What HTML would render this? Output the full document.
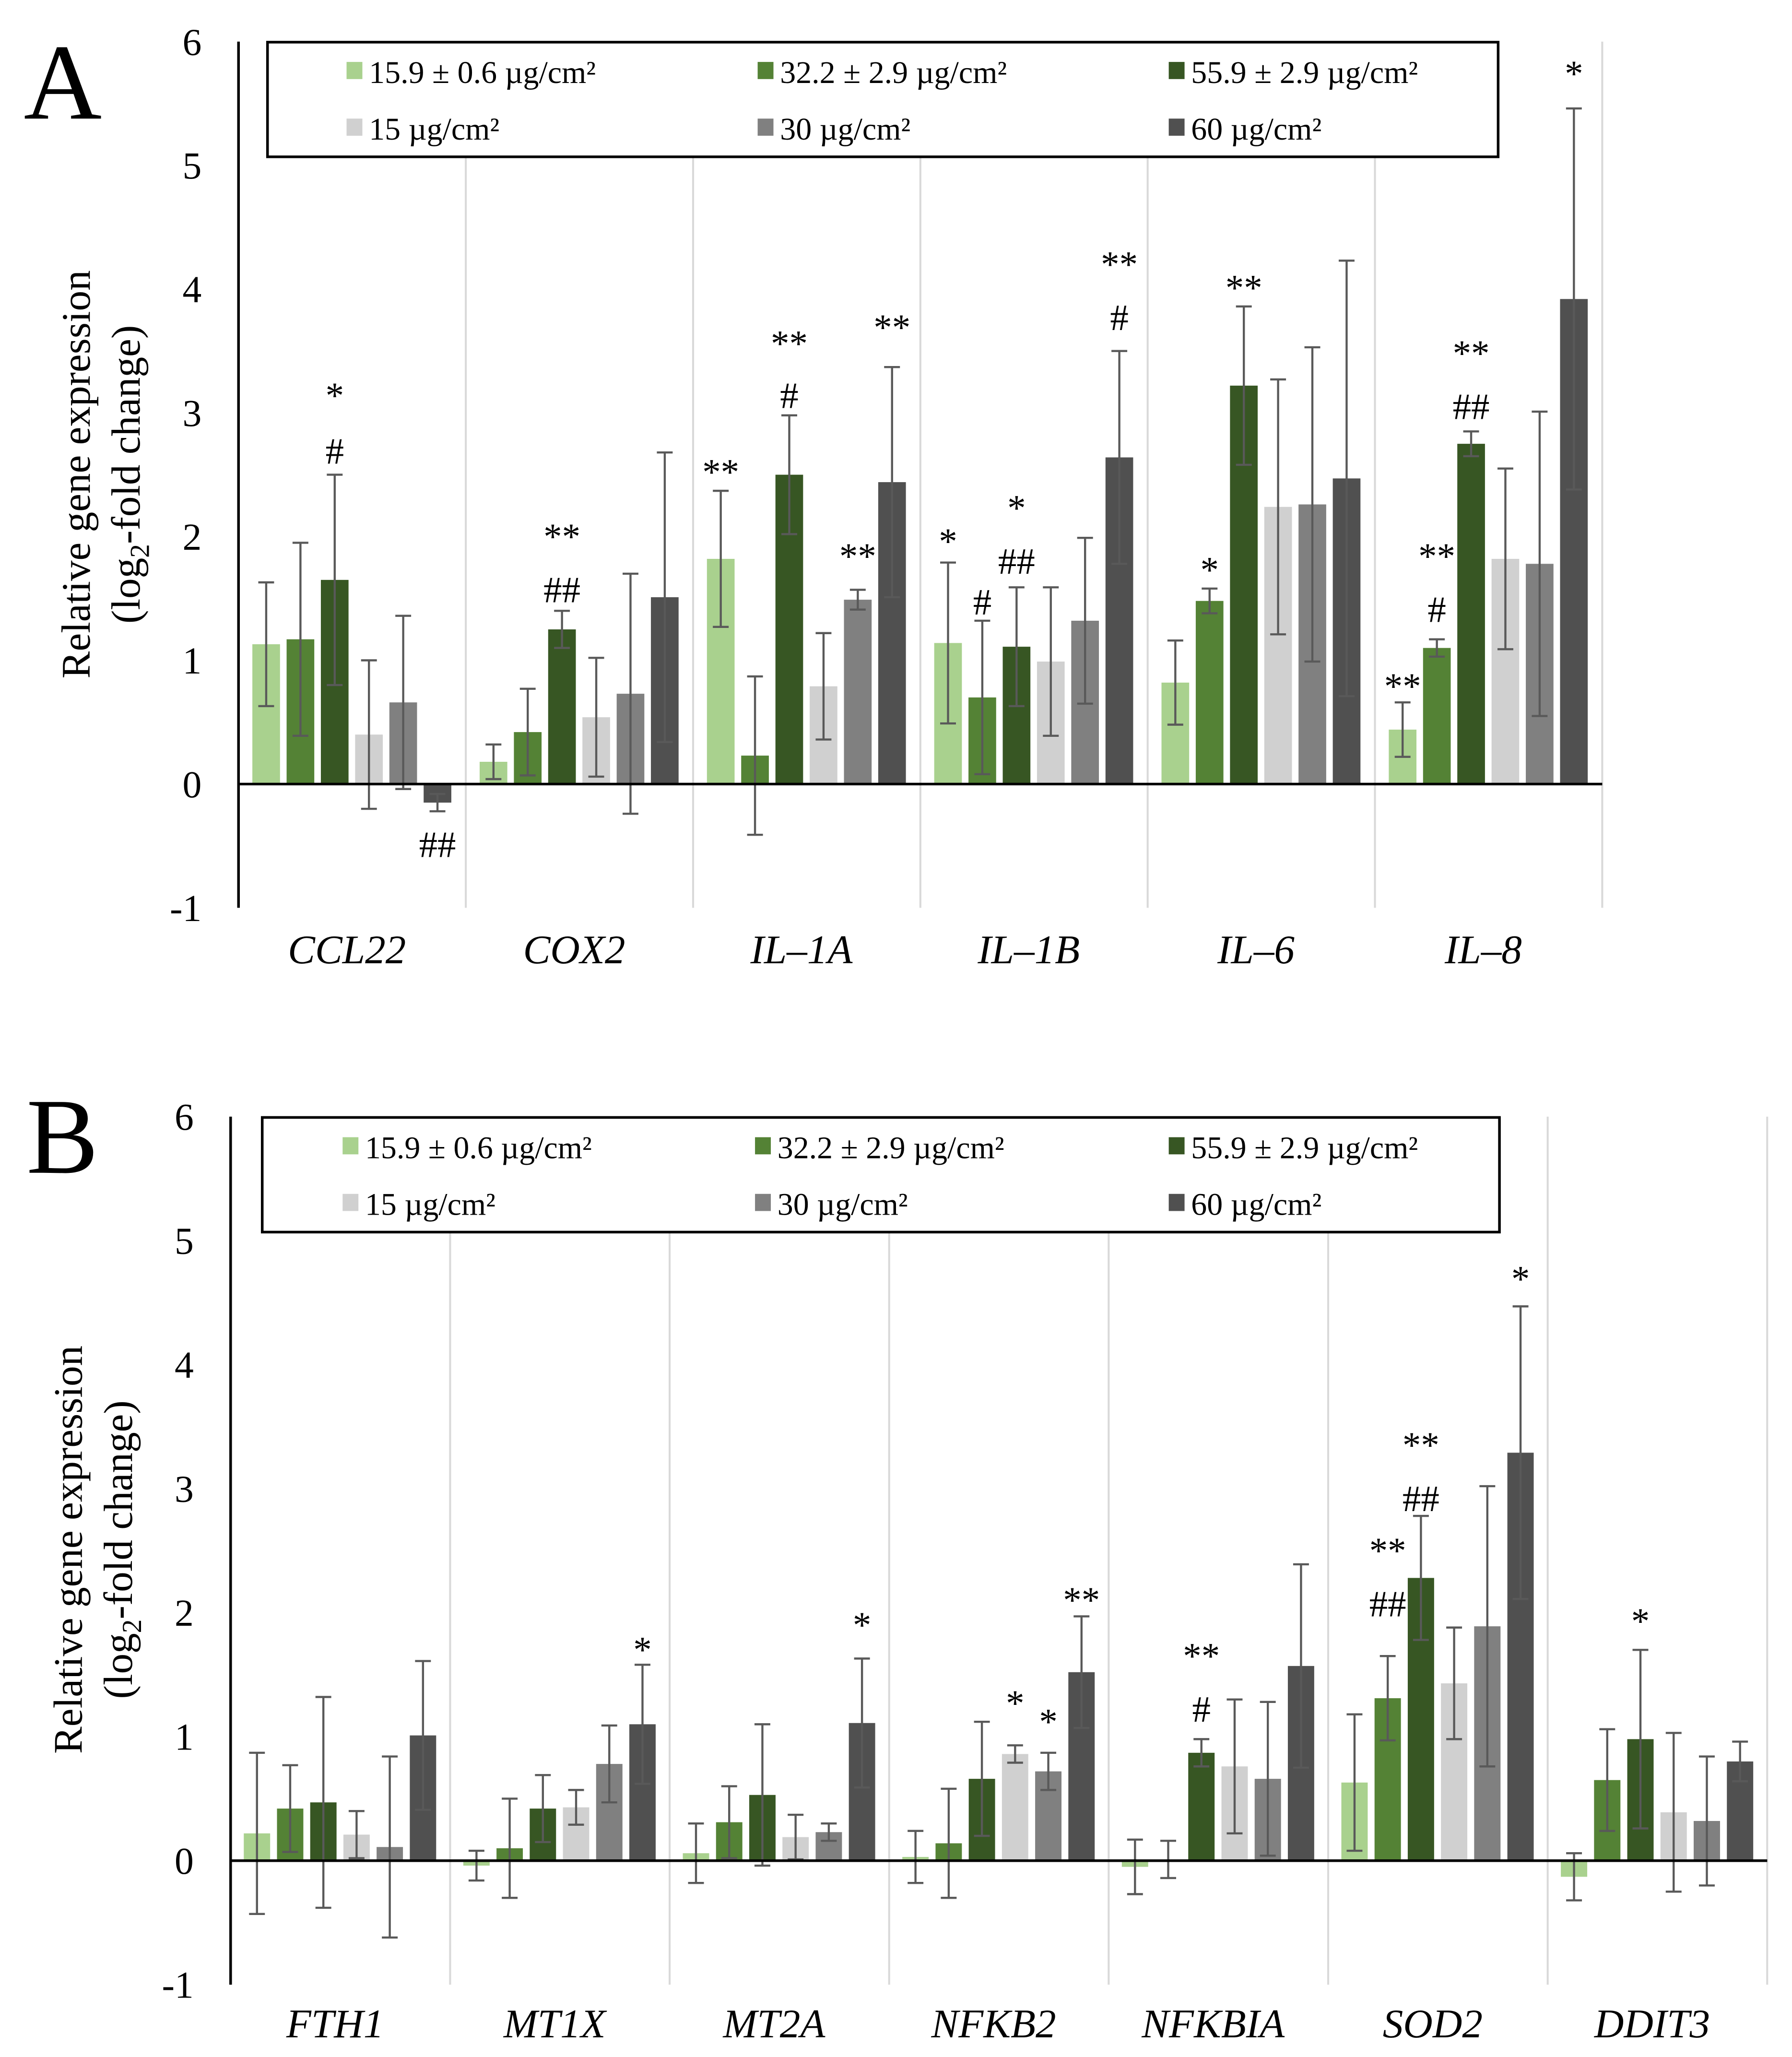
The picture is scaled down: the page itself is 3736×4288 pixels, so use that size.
<!DOCTYPE html>
<html><head><meta charset="utf-8"><style>
html,body{margin:0;padding:0;background:#fff}
svg{display:block}
text{font-family:"Liberation Serif",serif;fill:#000}
</style></head><body>
<svg id="chart" width="3736" height="4288" viewBox="0 0 1360 1561" xmlns="http://www.w3.org/2000/svg"></svg>
<script>
const colors=["#a9d18e","#548235","#375623","#d0d0d0","#808080","#505050"];
const seriesLabels=["15.9 ± 0.6 µg/cm²","32.2 ± 2.9 µg/cm²","55.9 ± 2.9 µg/cm²","15 µg/cm²","30 µg/cm²","60 µg/cm²"];
const tickLabels=[-1,0,1,2,3,4,5,6];
const catsA=["CCL22","COX2","IL–1A","IL–1B","IL–6","IL–8"];
const valsA=[[1.13,1.17,1.65,0.40,0.66,-0.15],[0.18,0.42,1.25,0.54,0.73,1.51],[1.82,0.23,2.50,0.79,1.49,2.44],[1.14,0.70,1.11,0.99,1.32,2.64],[0.82,1.48,3.22,2.24,2.26,2.47],[0.44,1.10,2.75,1.82,1.78,3.92]];
const errA=[[0.50,0.78,0.85,0.60,0.70,0.07],[0.14,0.35,0.15,0.48,0.97,1.17],[0.55,0.64,0.48,0.43,0.08,0.93],[0.65,0.62,0.48,0.60,0.67,0.86],[0.34,0.10,0.64,1.03,1.27,1.76],[0.22,0.07,0.10,0.73,1.23,1.54]];
const annA=[[0,2,"*",3.04],[0,2,"#",2.59],[0,5,"##",-0.59],[1,2,"**",1.90],[1,2,"##",1.47],[2,0,"**",2.42],[2,2,"**",3.46],[2,2,"#",3.04],[2,4,"**",1.74],[2,5,"**",3.59],[3,0,"*",1.86],[3,1,"#",1.37],[3,2,"*",2.13],[3,2,"##",1.70],[3,5,"**",4.10],[3,5,"#",3.67],[4,1,"*",1.63],[4,2,"**",3.91],[5,0,"**",0.69],[5,1,"**",1.74],[5,1,"#",1.31],[5,2,"**",3.38],[5,2,"##",2.95],[5,5,"*",5.64]];
const catsB=["FTH1","MT1X","MT2A","NFKB2","NFKBIA","SOD2","DDIT3"];
const valsB=[[0.22,0.42,0.47,0.21,0.11,1.01],[-0.04,0.10,0.42,0.43,0.78,1.10],[0.06,0.31,0.53,0.19,0.23,1.11],[0.03,0.14,0.66,0.86,0.72,1.52],[-0.05,0.01,0.87,0.76,0.66,1.57],[0.63,1.31,2.28,1.43,1.89,3.29],[-0.13,0.65,0.98,0.39,0.32,0.80]];
const errB=[[0.65,0.35,0.85,0.19,0.73,0.60],[0.12,0.40,0.27,0.14,0.31,0.48],[0.24,0.29,0.57,0.18,0.07,0.52],[0.21,0.44,0.46,0.07,0.15,0.45],[0.22,0.15,0.11,0.54,0.62,0.82],[0.55,0.34,0.50,0.45,1.13,1.18],[0.19,0.41,0.72,0.64,0.52,0.16]];
const annB=[[1,5,"*",1.60],[2,5,"*",1.80],[3,3,"*",1.17],[3,4,"*",1.02],[3,5,"**",2.00],[4,2,"**",1.55],[4,2,"#",1.12],[5,1,"**",2.40],[5,1,"##",1.97],[5,2,"**",3.25],[5,2,"##",2.82],[5,5,"*",4.59],[6,2,"*",1.83]];

const svg=document.getElementById('chart');
const NS="http://www.w3.org/2000/svg";
function mk(tag,attrs,parent,txt){const e=document.createElementNS(NS,tag);for(const k in attrs)e.setAttribute(k,attrs[k]);if(txt!==undefined)e.textContent=txt;(parent||svg).appendChild(e);return e;}

function panel(cfg){
  const g=mk('g',{});
  
  
  const y=v=>cfg.zeroY-v*cfg.unit;
  const gw=cfg.groupW;
  const x=(ci,si)=>cfg.axisX+ci*gw+cfg.off+si*cfg.step;
  for(let i=1;i<=cfg.cats.length;i++){
    const l=mk('line',{x1:cfg.axisX+i*gw,x2:cfg.axisX+i*gw,y1:y(6),y2:y(-1),stroke:'#d9d9d9','stroke-width':1.5},g);
    
    
  }
  tickLabels.forEach(t=>{
    const tx=mk('text',{x:cfg.axisX-28,y:y(t)+10,'text-anchor':'end','font-size':29},g,String(t));
    
    
  });
  cfg.vals.forEach((row,ci)=>row.forEach((v,si)=>{
    const cx=x(ci,si);
    const r=mk('rect',{x:cx-cfg.bw/2,y:Math.min(y(v),y(0)),width:cfg.bw,height:Math.abs(y(v)-y(0)),fill:colors[si]},g);
    
    
    const e=cfg.errs[ci][si];
    const eg=mk('g',{stroke:'#595959','stroke-width':1.6},g);
    
    
    mk('line',{x1:cx,x2:cx,y1:y(v-e),y2:y(v+e)},eg);
    mk('line',{x1:cx-6,x2:cx+6,y1:y(v-e),y2:y(v-e)},eg);
    mk('line',{x1:cx-6,x2:cx+6,y1:y(v+e),y2:y(v+e)},eg);
  }));
  cfg.ann.forEach(a=>{
    const t=mk('text',{x:x(a[0],a[1]),y:y(a[3]),'text-anchor':'middle','font-size':28},g,a[2]);
    
    
  });
  const ax=mk('line',{x1:cfg.axisX,x2:cfg.axisX,y1:y(6),y2:y(-1),stroke:'#000','stroke-width':2},g);
  
  
  const zx=mk('line',{x1:cfg.axisX,x2:cfg.axisX+gw*cfg.cats.length,y1:y(0),y2:y(0),stroke:'#000','stroke-width':2},g);
  
  
  cfg.cats.forEach((c,ci)=>{
    const t=mk('text',{x:cfg.axisX+ci*gw+gw/2-4,y:cfg.catY,'text-anchor':'middle','font-size':31,'font-style':'italic'},g,c);
    
    
  });
  const yt=mk('text',{transform:`translate(${cfg.titleX},${cfg.titleY}) rotate(-90)`,'text-anchor':'middle','font-size':31},g);
  
  
  mk('tspan',{x:0,y:0},yt,'Relative gene expression');
  mk('tspan',{x:0,y:38},yt,'(log');
  mk('tspan',{'font-size':21,dy:7},yt,'2');
  mk('tspan',{dy:-7},yt,'-fold change)');
  const lg=mk('g',{},g);
  
  
  mk('rect',{x:cfg.leg[0],y:cfg.leg[1],width:cfg.leg[2],height:87,fill:'#fff',stroke:'#000','stroke-width':2},lg);
  seriesLabels.forEach((s,i)=>{
    const col=i%3,row=Math.floor(i/3);
    const lx=cfg.legX[col],ly=cfg.leg[1]+22+row*43;
    const e=mk('g',{},lg);
    
    
    mk('rect',{x:lx,y:ly-7,width:12,height:13,fill:colors[i]},e);
    mk('text',{x:lx+17,y:ly+9,'font-size':24},e,s);
  });
  const pl=mk('text',{x:cfg.letter[0],y:cfg.letter[1],'font-size':82},g,cfg.letterT);
  
  
}
panel({name:'panel-a',cats:catsA,vals:valsA,errs:errA,ann:annA,axisX:181,zeroY:595,unit:93.9,groupW:172.5,off:21,step:26,bw:21,catY:731,titleX:68,titleY:360,leg:[203,32,934],legX:[263,575,887],letter:[18,90],letterT:'A'});
panel({name:'panel-b',cats:catsB,vals:valsB,errs:errB,ann:annB,axisX:175,zeroY:1412,unit:94.1,groupW:166.6,off:20,step:25.2,bw:20,catY:1546,titleX:62,titleY:1176,leg:[199,848,939],legX:[260,573,887],letter:[20,890],letterT:'B'});
</script>
</body></html>
